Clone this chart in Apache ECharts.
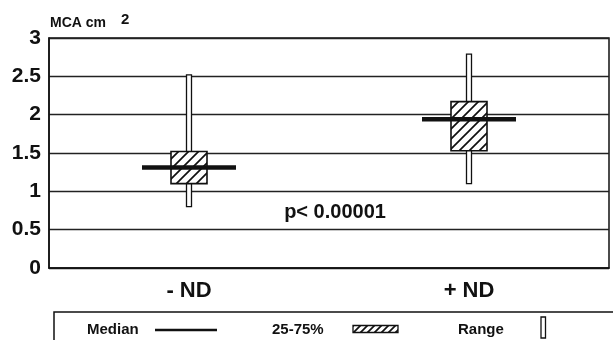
<!DOCTYPE html>
<html>
<head>
<meta charset="utf-8">
<script src="https://cdn.jsdelivr.net/npm/echarts@6/dist/echarts.min.js"></script>
<style>
  html, body { margin: 0; padding: 0; background: #fff; }
  #main { width: 613px; height: 340px; }
</style>
</head>
<body>
<div id="main"></div>
<script>
// values
var categories = ['- ND', '+ ND'];
var rangeMin = [0.80, 1.10];
var rangeMax = [2.52, 2.79];
var q25 = [1.10, 1.53];
var q75 = [1.52, 2.17];
var medians = [1.31, 1.94];
var yTicks = [0, 0.5, 1, 1.5, 2, 2.5, 3];

var FONT = 'Liberation Sans, Arial, sans-serif';

// hatch pattern for the 25-75% box
var makeHatch = function (n) {
  var c = document.createElement('canvas');
  c.width = n; c.height = n;
  var ctx = c.getContext('2d');
  ctx.fillStyle = '#fff';
  ctx.fillRect(0, 0, n, n);
  ctx.strokeStyle = '#111';
  ctx.lineWidth = 1.7;
  ctx.beginPath();
  ctx.moveTo(-1, n + 1); ctx.lineTo(n + 1, -1);
  ctx.moveTo(-n / 2 - 1, n / 2 + 1); ctx.lineTo(n / 2 + 1, -n / 2 - 1);
  ctx.moveTo(n / 2 - 1, 1.5 * n + 1); ctx.lineTo(1.5 * n + 1, n / 2 - 1);
  ctx.stroke();
  return c;
};
var hatch = makeHatch(10);
var hatchSmall = makeHatch(7);

var boxData = categories.map(function (c, i) {
  return [i, rangeMin[i], rangeMax[i], q25[i], q75[i], medians[i]];
});

var chart = echarts.init(document.getElementById('main'));
chart.setOption({
  animation: false,
  backgroundColor: '#fff',
  grid: {
    left: 49, right: 4, top: 38, bottom: 72,
    show: true, borderColor: '#111', borderWidth: 1.5, backgroundColor: 'transparent'
  },
  xAxis: {
    type: 'category',
    data: categories,
    axisTick: { show: false },
    axisLine: { lineStyle: { color: '#111', width: 1.5 } },
    axisLabel: { color: '#111', fontSize: 22, fontWeight: 'bold', fontFamily: FONT, margin: 12 }
  },
  yAxis: {
    type: 'value',
    min: yTicks[0],
    max: yTicks[yTicks.length - 1],
    interval: 0.5,
    axisLine: { show: true, lineStyle: { color: '#111', width: 1.5 } },
    axisTick: { show: false },
    axisLabel: { color: '#111', fontSize: 21, fontWeight: 'bold', fontFamily: FONT, margin: 8 },
    splitLine: { lineStyle: { color: '#222', width: 1.3 } }
  },
  series: [{
    type: 'custom',
    data: boxData,
    encode: { x: 0, y: [1, 2, 3, 4, 5] },
    renderItem: function (params, api) {
      var x = api.coord([api.value(0), 0])[0];
      var yLo = api.coord([0, api.value(1)])[1];
      var yHi = api.coord([0, api.value(2)])[1];
      var yQ1 = api.coord([0, api.value(3)])[1];
      var yQ3 = api.coord([0, api.value(4)])[1];
      var yMed = api.coord([0, api.value(5)])[1];
      var wW = 5, bW = 36, mW = 94;
      return {
        type: 'group',
        children: [
          { type: 'rect', shape: { x: x - wW / 2, y: yHi, width: wW, height: yLo - yHi },
            style: { fill: '#fff', stroke: '#111', lineWidth: 1.3 } },
          { type: 'rect', shape: { x: x - bW / 2, y: yQ3, width: bW, height: yQ1 - yQ3 },
            style: { fill: { image: hatch, repeat: 'repeat' }, stroke: '#111', lineWidth: 1.6 } },
          { type: 'line', shape: { x1: x - mW / 2, y1: yMed, x2: x + mW / 2, y2: yMed },
            style: { stroke: '#111', lineWidth: 4.5 } }
        ]
      };
    }
  }],
  graphic: [
    { type: 'text', x: 50, y: 30,
      style: { text: 'MCA cm', fontSize: 14, fontWeight: 'bold', fontFamily: FONT, fill: '#111', verticalAlign: 'bottom' } },
    { type: 'text', x: 121, y: 27,
      style: { text: '2', fontSize: 15, fontWeight: 'bold', fontFamily: FONT, fill: '#111', verticalAlign: 'bottom' } },
    { type: 'text', x: 335, y: 212,
      style: { text: 'p< 0.00001', fontSize: 20, fontWeight: 'bold', fontFamily: FONT, fill: '#111',
        align: 'center', verticalAlign: 'middle' } },
    // legend box
    { type: 'rect', shape: { x: 54, y: 312, width: 600, height: 40 },
      style: { fill: '#fff', stroke: '#111', lineWidth: 1.5 } },
    { type: 'text', x: 87, y: 330,
      style: { text: 'Median', fontSize: 15, fontWeight: 'bold', fontFamily: FONT, fill: '#111', verticalAlign: 'middle' } },
    { type: 'line', shape: { x1: 155, y1: 330, x2: 217, y2: 330 },
      style: { stroke: '#111', lineWidth: 2.5 } },
    { type: 'text', x: 272, y: 330,
      style: { text: '25-75%', fontSize: 15, fontWeight: 'bold', fontFamily: FONT, fill: '#111', verticalAlign: 'middle' } },
    { type: 'rect', shape: { x: 353, y: 325.5, width: 45, height: 7 },
      style: { fill: { image: hatchSmall, repeat: 'repeat' }, stroke: '#111', lineWidth: 1.3 } },
    { type: 'text', x: 458, y: 330,
      style: { text: 'Range', fontSize: 15, fontWeight: 'bold', fontFamily: FONT, fill: '#111', verticalAlign: 'middle' } },
    { type: 'rect', shape: { x: 541, y: 317, width: 4.5, height: 21 },
      style: { fill: '#fff', stroke: '#111', lineWidth: 1.3 } }
  ]
});
</script>
</body>
</html>
